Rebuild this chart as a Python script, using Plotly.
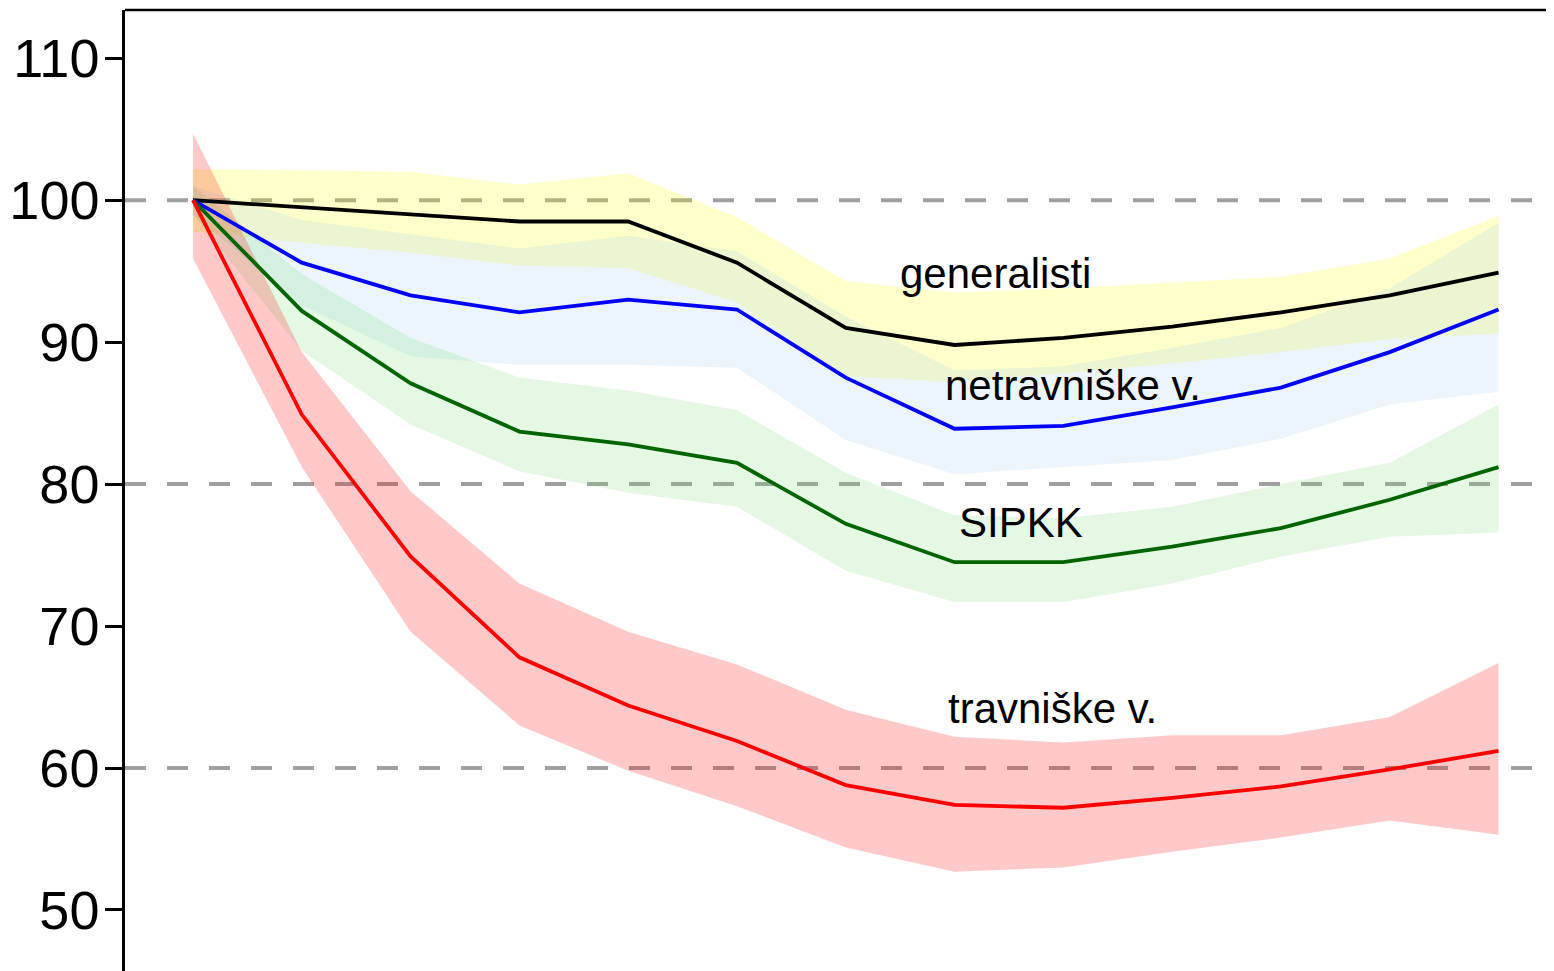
import plotly.graph_objects as go

# ---------------- data ----------------
x_pts = [0, 1, 2, 3, 4, 5, 6, 7, 8, 9, 10, 11, 12]

generalisti = [100, 99.5, 99.0, 98.5, 98.5, 95.6, 91.0, 89.8, 90.3, 91.1, 92.1, 93.3, 94.9]
generalisti_hi = [102.2, 102.1, 102.0, 101.1, 101.9, 98.8, 94.3, 93.5, 93.8, 94.2, 94.6, 95.9, 98.9]
generalisti_lo = [97.8, 97.0, 96.3, 95.4, 95.2, 92.8, 87.6, 87.2, 87.8, 88.5, 89.3, 90.2, 90.6]

netravniske = [100, 95.6, 93.3, 92.1, 93.0, 92.3, 87.5, 83.9, 84.1, 85.4, 86.8, 89.3, 92.3]
netravniske_hi = [101.0, 98.6, 97.6, 96.6, 97.5, 96.4, 91.8, 88.0, 88.3, 89.6, 91.0, 93.8, 98.4]
netravniske_lo = [99.0, 92.6, 89.0, 88.4, 88.4, 88.2, 83.1, 80.7, 81.2, 81.7, 83.2, 85.6, 86.5]

sipkk = [100, 92.2, 87.1, 83.7, 82.8, 81.5, 77.2, 74.5, 74.5, 75.6, 76.9, 78.9, 81.2]
sipkk_hi = [101.0, 94.8, 90.3, 87.5, 86.6, 85.2, 80.8, 77.8, 77.6, 78.4, 80.0, 81.5, 85.6]
sipkk_lo = [99.0, 89.4, 84.2, 80.9, 79.4, 78.4, 73.9, 71.7, 71.7, 73.0, 74.9, 76.3, 76.6]

travniske = [100, 84.9, 74.9, 67.8, 64.4, 61.9, 58.8, 57.4, 57.2, 57.9, 58.7, 59.9, 61.2]
travniske_hi = [104.7, 89.3, 79.5, 73.0, 69.6, 67.3, 64.1, 62.2, 61.8, 62.3, 62.3, 63.6, 67.4]
travniske_lo = [95.9, 81.2, 69.6, 63.0, 59.8, 57.3, 54.4, 52.7, 53.0, 54.1, 55.1, 56.3, 55.3]

ref_levels = [100, 80, 60]
y_ticks = [50, 60, 70, 80, 90, 100, 110]

labels = ["generalisti", "netravniške v.", "SIPKK", "travniške v."]
label_x = [7.38, 8.09, 7.61, 7.90]
label_y = [94.85, 86.95, 77.3, 64.2]

# ---------------- styling ----------------
series = [
    (generalisti, generalisti_hi, generalisti_lo, "#000000", "rgba(255,255,0,0.20)"),
    (netravniske, netravniske_hi, netravniske_lo, "#0000FF", "rgba(150,200,235,0.18)"),
    (sipkk, sipkk_hi, sipkk_lo, "#006400", "rgba(120,220,120,0.20)"),
    (travniske, travniske_hi, travniske_lo, "#FF0000", "rgba(255,0,0,0.21)"),
]

fig = go.Figure()

for mid, hi, lo, lc, fc in series:
    fig.add_trace(go.Scatter(x=x_pts, y=hi, mode="lines", line=dict(width=0, color=fc),
                             showlegend=False, hoverinfo="skip"))
    fig.add_trace(go.Scatter(x=x_pts, y=lo, mode="lines", line=dict(width=0, color=fc),
                             fill="tonexty", fillcolor=fc, showlegend=False, hoverinfo="skip"))

for mid, hi, lo, lc, fc in series:
    fig.add_trace(go.Scatter(x=x_pts, y=mid, mode="lines", line=dict(width=3.8, color=lc),
                             showlegend=False))

for lv in ref_levels:
    fig.add_hline(y=lv, line=dict(color="#A0A0A0", width=4, dash="21px,21px"), layer="below")

for t, ax, ay in zip(labels, label_x, label_y):
    fig.add_annotation(x=ax, y=ay, text=t, showarrow=False,
                       font=dict(family="Liberation Sans, Arial", size=42, color="black"),
                       xanchor="center", yanchor="middle")

# top border of the panel
fig.add_shape(type="line", xref="paper", yref="paper", x0=0, x1=1, y0=1, y1=1,
              line=dict(color="black", width=2.5))

fig.update_xaxes(range=[-0.625, 12.51], showticklabels=False, ticks="", showgrid=False,
                 zeroline=False, showline=False, automargin=False)
fig.update_yaxes(range=[45.7, 113.4], tickvals=y_ticks, ticks="outside", ticklen=17,
                 tickwidth=3, tickcolor="black", showgrid=False, zeroline=False,
                 showline=True, linecolor="black", linewidth=2.5,
                 tickfont=dict(family="Liberation Sans, Arial", size=54, color="black"),
                 ticklabelstandoff=-5, automargin=False)

# page body has an 8px margin: shrink the figure so it ends at the window edge
fig.update_layout(width=1546, height=963, margin=dict(l=117, r=0, t=2, b=0),
                  plot_bgcolor="white", paper_bgcolor="white")

fig.write_html("out.html")
